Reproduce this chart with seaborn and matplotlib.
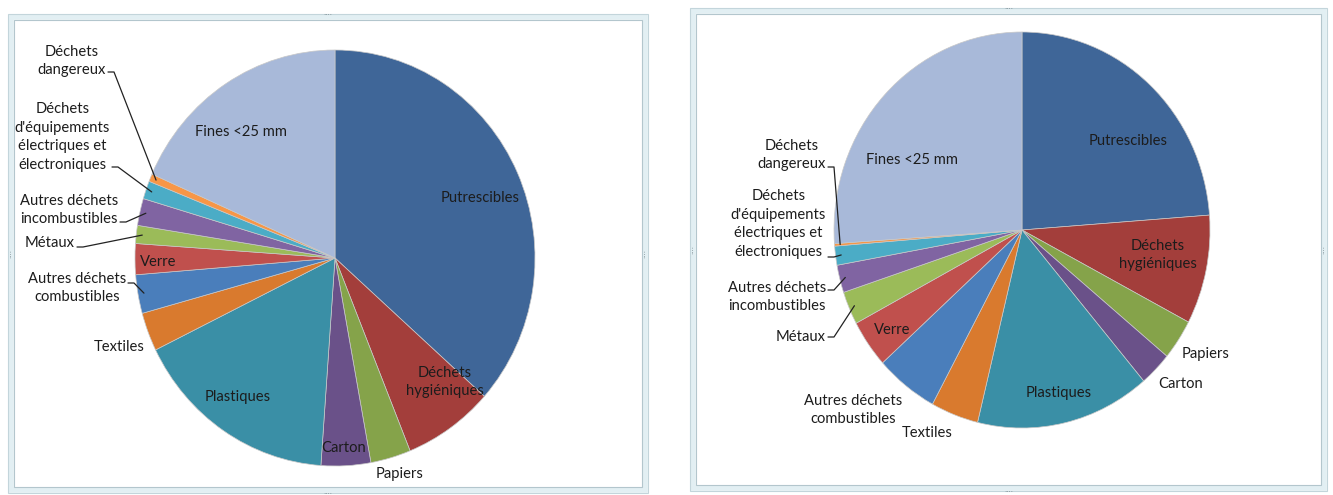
import matplotlib
matplotlib.use("Agg")
import matplotlib.pyplot as plt
import seaborn as sns
import numpy as np
from matplotlib.patches import Rectangle
from matplotlib.lines import Line2D

# ---------------- data ----------------
categories = [
    "Putrescibles", "Déchets\nhygiéniques", "Papiers", "Carton", "Plastiques",
    "Textiles", "Autres déchets\ncombustibles", "Verre", "Métaux",
    "Autres déchets\nincombustibles",
    "Déchets\nd'équipements\nélectriques et\nélectroniques",
    "Déchets\ndangereux", "Fines <25 mm",
]
values_left = [36.6, 7.3, 3.25, 4.0, 16.6, 3.0, 3.0, 2.4, 1.4, 2.1, 1.4, 0.6, 18.4]
values_right = [23.8, 8.9, 3.3, 2.8, 15.0, 4.1, 5.4, 3.9, 2.7, 2.25, 1.55, 0.2, 26.1]

colors = ["#3F6698", "#A33E3B", "#85A34A", "#6A5189", "#3A8FA6", "#D97A2E",
          "#4A7EBB", "#C0504D", "#9BBB59", "#8064A2", "#4BACC6", "#F79646",
          "#A8B9D9"]

# ---------------- layout ----------------
W, H = 1333, 495
sns.set_theme(style="white")
plt.rcParams["font.family"] = ["Lato", "DejaVu Sans"]
FS = 10.6
LS = 1.4
TXT = "#1c1c1c"

fig = plt.figure(figsize=(W / 100, H / 100), dpi=100)
fig.patch.set_facecolor("white")


def fp(x, y):
    """top-left pixel -> figure fraction"""
    return (x / W, 1 - y / H)


# label layout: (text centre x, y in pixels, leader start (text-end x, y) or None)
layout_left = [
    (480, 198, None), (445, 382, None), (400, 474, None), (344, 448, None),
    (238, 397, None), (119, 347, None), (80, 288, (128, 283)),
    (158, 262, None), (52, 243, (77, 247)), (72, 210, (120, 222)),
    (69, 137, (112, 167)), (74, 61, (108, 72)), (241, 132, None),
]
layout_right = [
    (1128, 141, None), (1158, 255, None), (1206, 354, None), (1181, 384, None),
    (1059, 393, None), (927, 433, None), (853, 410, None),
    (892, 330, None), (792, 337, (828, 337)), (760, 297, (828, 290)),
    (767, 224, (828, 257)), (786, 155, (828, 167)), (912, 160, None),
]

# axes boxes in pixels: (left, top, width, height)
boxes = [(135, 50, 400, 416), (834, 32, 376, 396)]


def draw_pie(box, values, layout):
    l, t, w, h = box
    ax = fig.add_axes([l / W, 1 - (t + h) / H, w / W, h / H])
    pal = sns.color_palette(colors)
    wedges, _ = ax.pie(values, colors=pal, startangle=90, counterclock=False,
                       radius=1.0,
                       wedgeprops=dict(edgecolor="#c8c8c8", linewidth=0.5))
    ax.set_aspect("auto")
    ax.set_xlim(-1, 1)
    ax.set_ylim(-1, 1)
    ax.axis("off")
    inv = fig.transFigure.inverted()
    for wdg, lab, (tx, ty, lead) in zip(wedges, categories, layout):
        if lead is None:
            fig.text(*fp(tx, ty), lab, ha="center", va="center", fontsize=FS,
                     color=TXT, linespacing=LS)
            continue
        fig.text(*fp(lead[0] - 2, ty), lab, ha="right", va="center",
                 multialignment="center", fontsize=FS, color=TXT,
                 linespacing=LS)
        mid = np.deg2rad((wdg.theta1 + wdg.theta2) / 2)
        rim = ax.transData.transform((0.97 * np.cos(mid), 0.97 * np.sin(mid)))
        rx, ry = inv.transform(rim)
        x0, y0 = fp(lead[0], lead[1])
        x1, y1 = fp(lead[0] + 6, lead[1])
        fig.add_artist(Line2D([x0, x1, rx], [y0, y1, ry], color="#222222",
                              lw=0.9, transform=fig.transFigure))
    return ax


draw_pie(boxes[0], values_left, layout_left)
draw_pie(boxes[1], values_right, layout_right)

# ---------------- chart frames ----------------
frames = [(8, 14, 648, 493), (690, 8, 1327, 491)]
for (x0, y0, x1, y1) in frames:
    a = fp(x0 + 3, y1 - 3)
    b = fp(x1 - 3, y0 + 3)
    fig.add_artist(Rectangle(a, b[0] - a[0], b[1] - a[1], fill=False,
                             edgecolor="#e2eff3", lw=4.0,
                             transform=fig.transFigure))
    for d, c in ((0, "#c3d5db"), (6, "#b3c6cd")):
        a = fp(x0 + d, y1 - d)
        b = fp(x1 - d, y0 + d)
        fig.add_artist(Rectangle(a, b[0] - a[0], b[1] - a[1], fill=False,
                                 edgecolor=c, lw=0.8,
                                 transform=fig.transFigure))
    xm = (x0 + x1) / 2
    ym = (y0 + y1) / 2
    for (hx, hy, s, rot) in ((xm, y0 + 1, "····", 0), (xm, y1 + 1, "····", 0),
                             (x0 + 3, ym, "····", 90), (x1 - 3, ym, "····", 90)):
        fig.text(*fp(hx, hy), s, fontsize=5, color="#7a8a90", ha="center",
                 va="center", rotation=rot, family="DejaVu Sans")

fig.savefig("out.png", dpi=100, facecolor="white")
